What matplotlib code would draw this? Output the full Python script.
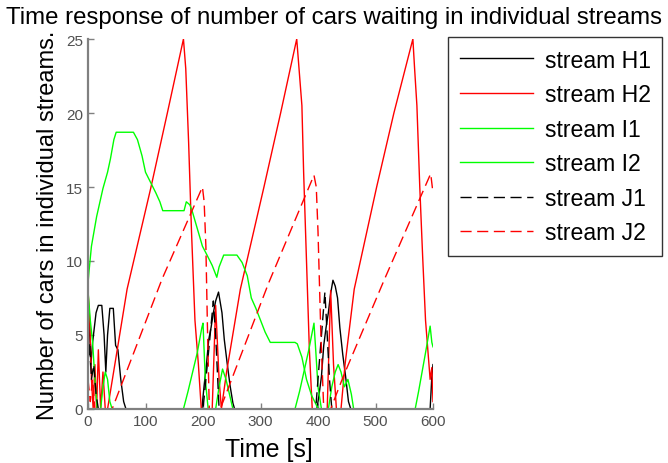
import matplotlib
matplotlib.use("Agg")
import matplotlib.pyplot as plt

plt.rcParams['font.family'] = ['Liberation Sans', 'DejaVu Sans']

title = "Time response of number of cars waiting in individual streams"
xlabel = "Time [s]"
ylabel = "Number of cars in individual streams."
labels = ["stream H1", "stream H2", "stream I1", "stream I2", "stream J1", "stream J2"]
xticks = [0, 100, 200, 300, 400, 500, 600]
yticks = [0, 5, 10, 15, 20, 25]

# stream H1 (black solid)
h1_t = [0, 2, 5, 8, 11, 14, 18, 24, 28, 31, 34, 38, 44, 48, 52, 57, 62, 66,
        198, 202, 206, 210, 214, 218, 222, 227, 230, 233, 237, 242, 247, 252, 255,
        398, 402, 406, 410, 414, 418, 422, 426, 430, 434, 438, 443, 448, 453, 457,
        595, 598, 600]
h1_v = [5, 6, 3, 4.5, 5.5, 6.5, 7, 7, 5, 2.5, 5, 6.8, 6.8, 4.3, 4, 2, 0.5, 0,
        0, 1.6, 3, 4.7, 5.5, 6.5, 7.3, 7.9, 7.2, 6.5, 4.7, 3.1, 1.6, 0.4, 0,
        0, 1, 2.2, 4.3, 5.5, 6.5, 7.8, 8.7, 8.3, 7.5, 5.5, 3.7, 2.2, 0.5, 0,
        0, 2.2, 3]

# stream H2 (red solid)
h2_t = [0, 3, 6, 9, 12, 15, 18, 22, 26, 30, 34, 50, 68, 109, 138, 166, 170, 175, 180, 186, 192, 197,
        216, 222, 228, 232, 241, 265, 306, 335, 363, 366, 372, 375, 380, 385, 390,
        416, 422, 427, 432, 440, 447, 463, 502, 532, 565, 568, 572, 577, 582, 587, 592, 595, 598, 600]
h2_v = [8, 6, 2, 0, 3, 0, 4, 0, 2.5, 0, 0, 3.8, 8.1, 14.9, 20, 25, 23, 18, 12, 6, 3, 0,
        0, 7, 2, 0, 2.5, 8.1, 15, 20, 25, 23.5, 20.5, 16, 10, 4, 0,
        0, 8, 3, 0, 0, 3, 8.1, 15, 20, 25, 23, 20.5, 15, 10.3, 6, 3.5, 2, 2.8, 0.5]

# stream I1 (green solid)
i1_t = [0, 2, 6, 15, 26, 34, 39, 45, 49, 79, 86, 94, 100, 109, 118, 125, 130, 167, 171, 177, 181,
        190, 199, 207, 216, 224, 228, 236, 259, 268, 277, 284, 292, 299, 308, 317, 360, 364,
        372, 380, 389, 398, 402, 600]
i1_v = [8.5, 9.4, 11, 13, 14.9, 16, 16.9, 18.2, 18.7, 18.7, 18.2, 17.1, 16, 15.3, 14.6, 14, 13.4,
        13.4, 14, 13.8, 13.4, 12.2, 11, 10.4, 9.7, 8.9, 9.6, 10.4, 10.4, 9.9, 9, 7.5, 6.8, 6.1,
        5.2, 4.5, 4.5, 4.4, 3.5, 2, 0.9, 0.2, 0, 0]

# stream I2 (green solid)
i2_t = [0, 4, 8, 12, 16, 22, 26, 30, 34, 38, 42,
        166, 174, 182, 190, 198, 200, 204, 209,
        222, 228, 234, 240, 246, 252,
        360, 368, 376, 384, 393, 396, 400, 406,
        418, 424, 430, 435, 440, 446, 452, 458, 462,
        569, 575, 581, 587, 595, 598, 600]
i2_v = [8, 6, 4.5, 2, 0, 0, 1.5, 2.5, 2, 0.5, 0,
        0, 1.2, 2.5, 3.8, 5.5, 5.8, 2, 0,
        0, 1.5, 2.7, 2, 1, 0,
        0, 1.2, 2.6, 4, 5.8, 4, 1.5, 0,
        0, 1.5, 2.5, 3, 2.5, 1.5, 2, 1, 0,
        0, 1.2, 2.5, 3.8, 5.6, 4.5, 4.2]

# stream J1 (black dashed)
j1_t = [0, 3, 6, 10, 14, 18, 200, 210, 218, 222, 228, 396, 404, 412, 416, 420, 424, 600]
j1_v = [2.5, 4.5, 2, 3, 1, 0, 0, 4, 7.3, 5, 0, 0, 4, 7.9, 5, 2, 0, 0]

# stream J2 (red dashed)
j2_t = [0, 4, 8, 12, 42, 129, 199, 202, 205, 208, 211, 230, 314, 393, 397, 400, 405, 410,
        422, 444, 516, 596, 600]
j2_v = [2, 0.5, 2, 0, 0, 8.8, 15, 14, 11, 5, 0, 0, 8.5, 15.8, 15, 12, 5, 0,
        0, 2.2, 8.8, 15.9, 14.6]

W, H = 668, 464
fig = plt.figure(figsize=(W / 100, H / 100), dpi=100)
ax = fig.add_axes([88 / W, 1 - 410 / H, (433 - 88) / W, (410 - 40) / H])

lw = 1.0
dash = (0, (8, 4))
ax.plot(h1_t, h1_v, color='black', lw=lw, label=labels[0])
ax.plot(h2_t, h2_v, color='#ff0000', lw=lw, label=labels[1])
ax.plot(i1_t, i1_v, color='#00ff00', lw=lw, label=labels[2])
ax.plot(i2_t, i2_v, color='#00ff00', lw=lw, label=labels[3])
ax.plot(j1_t, j1_v, color='black', lw=lw, ls=dash, label=labels[4])
ax.plot(j2_t, j2_v, color='#ff0000', lw=lw, ls=dash, label=labels[5])

ax.set_xlim(0, 600)
ax.set_ylim(0, 25)
ax.set_xticks(xticks)
ax.set_yticks(yticks)
ax.set_xticklabels([str(x) for x in xticks])
ax.set_yticklabels([str(y) for y in yticks])
for s in ['top', 'right']:
    ax.spines[s].set_visible(False)
for s in ['left', 'bottom']:
    ax.spines[s].set_color('#808080')
    ax.spines[s].set_linewidth(1.6)
ax.tick_params(direction='in', length=4, width=1, color='#808080',
               labelcolor='#505050', labelsize=11)
ax.set_xlabel(xlabel, fontsize=18)
ax.xaxis.set_label_coords(0.523, -0.075, transform=ax.transAxes)
ax.xaxis.label.set_va('top')
ax.set_ylabel(ylabel, fontsize=17, labelpad=5)

fig.text(0.5, 1 - 18 / H, title, ha='center', va='center', fontsize=17.3)

leg = fig.legend(loc='upper left', bbox_to_anchor=(448 / W, 1 - 38 / H),
                 fontsize=16.6, frameon=True, fancybox=False, edgecolor='black',
                 handlelength=3.2, handletextpad=0.5, labelspacing=0.5,
                 borderpad=0.5, borderaxespad=0)
leg.get_frame().set_linewidth(1.0)

fig.savefig("out.png", dpi=100)
